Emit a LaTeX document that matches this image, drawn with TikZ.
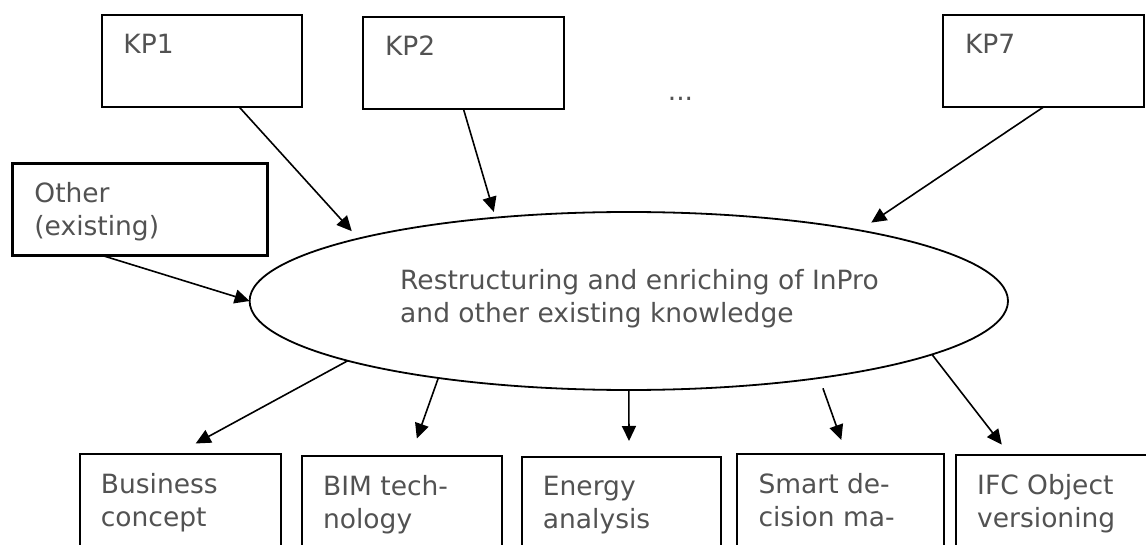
\documentclass[tikz,border=0pt]{standalone}
\usepackage{fontspec}
\setmainfont{DejaVu Sans}
\usetikzlibrary{arrows.meta,shapes.geometric}
\begin{document}
\begin{tikzpicture}[x=1pt,y=-1pt,
    box/.style={draw,line width=1.8pt,anchor=north west,inner sep=0pt,outer sep=0pt,
      minimum width=200.5pt,minimum height=92pt},
    txt/.style={anchor=north west,inner sep=0pt,align=left,text=black!68,
      font=\fontsize{26.5}{33}\selectfont},
    arr/.style={-{Triangle[length=15pt,width=14pt]},line width=1.6pt}]
  \clip (0,0) rectangle (1146,545);
  % sources
  \node[box] (kp1) at (101.7,15) {};
  \node[box] (kp2) at (363.3,17.3) {};
  \node[box] (kp7) at (943.3,15) {};
  \node[box,line width=3.5pt,minimum width=255pt] (other) at (12.7,163.3) {};
  \foreach \n/\t in {kp1/KP1,kp2/KP2,kp7/KP7,other/{Other\\(existing)}}
    \node[txt] (\n t) at ([xshift=21.5pt,yshift=-18.8pt]\n.north west) {\t};
  \node[txt,anchor=base] (dots) at (680.5,100.5) {...};
  % central ellipse
  \node[draw,ellipse,line width=1.8pt,inner sep=0pt,outer sep=0pt,
    minimum width=758.4pt,minimum height=178pt] (ell) at (628.8,301) {};
  \node[txt] (ellt) at ([xshift=150.4pt,yshift=31.7pt]ell.west)
    {Restructuring and enriching of InPro\\and other existing knowledge};
  % results
  \foreach \n/\x/\y/\w/\t in {bus/79.7/454/201/{Business\\concept},
      bim/301.9/456/200/{BIM tech-\\nology},
      en/521.7/456.7/199.3/{Energy\\analysis},
      smart/737.3/454.3/206.7/{Smart de-\\cision ma-},
      ifc/956/455/200/{IFC Object\\versioning}}{
    \node[box,minimum width=\w pt,minimum height=110pt] (\n) at (\x,\y) {};
    \node[txt] (\n t) at ([xshift=21pt,yshift=-18.8pt]\n.north west) {\t};
  }
  % arrows in
  \draw[arr,shorten >=10pt] (kp1.-51.3) -- (ell.167.3);
  \draw[arr,shorten >=6pt] (kp2.south) -- (ell.148.85);
  \draw[arr,shorten >=14pt] (kp7.south) -- (ell.17.4);
  \draw[arr] (other.-130.3) -- (ell.180.6);
  % arrows out
  \draw[arr,shorten >=22pt] (ell.192.3) -- (bus.94.7);
  \draw[arr,shorten >=18.6pt] (ell.202.3) -- (bim.81.8);
  \draw[arr,shorten >=15.7pt] (ell.south) -- (en.82.3);
  \draw[arr,shorten <=11pt,shorten >=15.3pt] (ell.-22.95) -- (smart.84.4);
  \draw[arr,shorten >=13.2pt] (ell.-10.34) -- (ifc.130.3);
\end{tikzpicture}
\end{document}
